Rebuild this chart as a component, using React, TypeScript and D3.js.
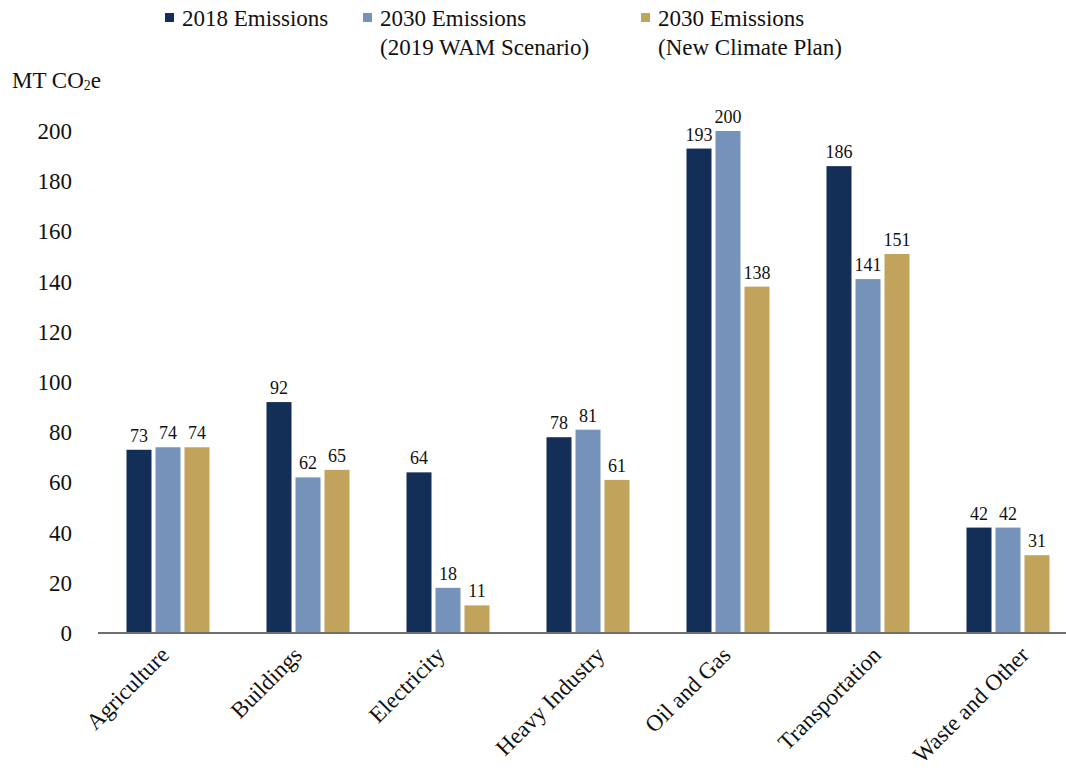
import { useEffect, useRef } from 'react'
import * as d3 from 'd3'

const categories = ['Agriculture', 'Buildings', 'Electricity', 'Heavy Industry', 'Oil and Gas', 'Transportation', 'Waste and Other']
const emissions2018 = [73, 92, 64, 78, 193, 186, 42]
const emissions2030Wam = [74, 62, 18, 81, 200, 141, 42]
const emissions2030Plan = [74, 65, 11, 61, 138, 151, 31]
const seriesNames = [['2018 Emissions'], ['2030 Emissions', '(2019 WAM Scenario)'], ['2030 Emissions', '(New Climate Plan)']]
const yTicks = [0, 20, 40, 60, 80, 100, 120, 140, 160, 180, 200]

const colors = ['#142f57', '#7593ba', '#c2a35c']
const font = "'Liberation Serif', 'DejaVu Serif', 'Times New Roman', Times, serif"

export default function App() {
  const svgRef = useRef<SVGSVGElement>(null)

  useEffect(() => {
    if (!svgRef.current) return
    const svg = d3.select(svgRef.current)
    svg.selectAll('*').remove()

    const width = 1066
    const height = 771
    const series = [emissions2018, emissions2030Wam, emissions2030Plan]

    const x = d3.scaleBand<string>()
      .domain(categories)
      .range([98, 1078])

    const y = d3.scaleLinear()
      .domain([0, 200])
      .range([633, 131])

    const barW = 25
    const step = 29

    // y tick labels
    svg.append('g')
      .selectAll('text')
      .data(yTicks)
      .join('text')
      .attr('x', 72)
      .attr('y', d => y(d))
      .attr('dy', '0.35em')
      .attr('text-anchor', 'end')
      .style('font-family', font)
      .attr('font-size', 23)
      .attr('fill', '#111')
      .text(d => d)

    // bars
    series.forEach((vals, si) => {
      const g = svg.append('g')
      g.selectAll('rect')
        .data(vals)
        .join('rect')
        .attr('x', (_, i) => x(categories[i])! + x.bandwidth() / 2 - step - barW / 2 + si * step)
        .attr('y', d => y(d))
        .attr('width', barW)
        .attr('height', d => y(0) - y(d))
        .attr('fill', colors[si])

      g.selectAll('text')
        .data(vals)
        .join('text')
        .attr('x', (_, i) => x(categories[i])! + x.bandwidth() / 2 - step + si * step)
        .attr('y', d => y(d) - 8)
        .attr('text-anchor', 'middle')
        .style('font-family', font)
        .attr('font-size', 18)
        .attr('fill', '#111')
        .text(d => d)
    })

    // baseline
    svg.append('line')
      .attr('x1', 98)
      .attr('x2', width)
      .attr('y1', y(0))
      .attr('y2', y(0))
      .attr('stroke', '#6e6e6e')
      .attr('stroke-width', 2)

    // category labels: longer labels sit further right, like the source
    svg.append('g')
      .selectAll('text')
      .data(categories)
      .join('text')
      .attr('text-anchor', 'end')
      .attr('dy', '0.7em')
      .style('font-family', font)
      .attr('font-size', 23)
      .attr('fill', '#111')
      .text(d => d)
      .attr('transform', function (d) {
        const len = (this as SVGTextElement).getComputedTextLength()
        const dx = len * Math.SQRT1_2
        const off = 0.6 * dx - 54
        return `translate(${x(d)! + x.bandwidth() / 2 + off},${y(0) + 12}) rotate(-45)`
      })

    // y axis title
    const title = svg.append('text')
      .attr('x', 12)
      .attr('y', 88)
      .style('font-family', font)
      .attr('font-size', 23)
      .attr('fill', '#111')
    title.append('tspan').text('MT CO')
    title.append('tspan').attr('font-size', 14).attr('dy', 2).text('2')
    title.append('tspan').attr('dy', -2).text('e')

    // legend
    const legendX = [165, 363, 641]
    seriesNames.forEach((lines, i) => {
      svg.append('rect')
        .attr('x', legendX[i])
        .attr('y', 13)
        .attr('width', 9)
        .attr('height', 9)
        .attr('fill', colors[i])
      const t = svg.append('text')
        .style('font-family', font)
        .attr('font-size', 23)
        .attr('fill', '#111')
      lines.forEach((line, li) => {
        t.append('tspan')
          .attr('x', legendX[i] + 17)
          .attr('y', 26 + li * 29)
          .text(line)
      })
    })

    svg.attr('width', width).attr('height', height)
  }, [])

  return (
    <svg
      ref={svgRef}
      width={1066}
      height={771}
      style={{ position: 'absolute', left: 0, top: 0, background: '#fff' }}
    />
  )
}
